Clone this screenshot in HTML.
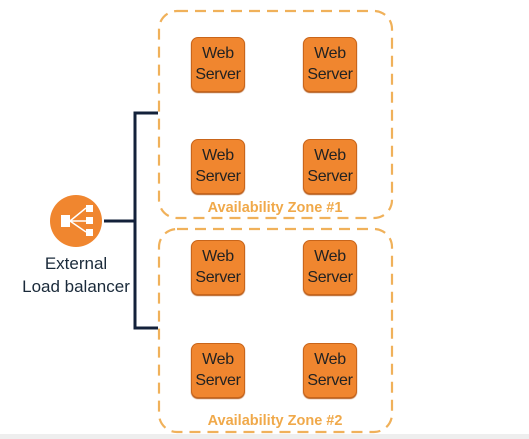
<!DOCTYPE html>
<html><head><style>
body{margin:0;width:529px;height:439px;background:#fff;position:relative;overflow:hidden;font-family:"Liberation Sans",sans-serif}
.s{position:absolute;width:54px;height:55px;background:#f0862f;border:1px solid #c9651a;border-radius:7px;box-sizing:border-box;color:#222;font-size:16px;line-height:21px;text-align:center;padding-top:5px;box-shadow:0 1px 1px #b35a1a;letter-spacing:-0.3px}
.t{position:absolute;color:#f0a94a;font-weight:bold;font-size:14.5px;width:234px;text-align:center}
</style></head><body>
<svg width="529" height="439" style="position:absolute;left:0;top:0">
<rect x="159" y="11" width="233" height="207" rx="18" fill="none" stroke="#f0b15a" stroke-width="2.2" stroke-dasharray="11,7"/>
<rect x="159" y="229" width="233" height="203" rx="18" fill="none" stroke="#f0b15a" stroke-width="2.2" stroke-dasharray="11,7"/>
<path d="M158 113 H135 V328 H158 M104 221 H135" fill="none" stroke="#13213a" stroke-width="3"/>
<circle cx="76" cy="221" r="26" fill="#f0862f"/>
<rect x="61" y="215" width="9" height="12" fill="#fff"/>
<rect x="86" y="205" width="7" height="7" fill="#fff"/>
<rect x="86" y="217" width="7" height="7" fill="#fff"/>
<rect x="86" y="229" width="7" height="7" fill="#fff"/>
<path d="M70 221 L86 208 M70 221 H86 M70 221 L86 232" stroke="#fff" stroke-width="1.5"/>
<rect x="0" y="434" width="529" height="5" fill="#eee"/>
</svg>
<div style="position:absolute;left:16px;width:120px;top:252px;text-align:center;font-size:17px;line-height:23px;color:#1a2a3a">External<br>Load balancer</div>
<div class="s" style="left:191px;top:37px">Web<br>Server</div>
<div class="s" style="left:303px;top:37px">Web<br>Server</div>
<div class="s" style="left:191px;top:139px">Web<br>Server</div>
<div class="s" style="left:303px;top:139px">Web<br>Server</div>
<div class="s" style="left:191px;top:240px">Web<br>Server</div>
<div class="s" style="left:303px;top:240px">Web<br>Server</div>
<div class="s" style="left:191px;top:343px">Web<br>Server</div>
<div class="s" style="left:303px;top:343px">Web<br>Server</div>
<div class="t" style="left:158px;top:200px">Availability Zone #1</div>
<div class="t" style="left:158px;top:413px">Availability Zone #2</div>
</body></html>
